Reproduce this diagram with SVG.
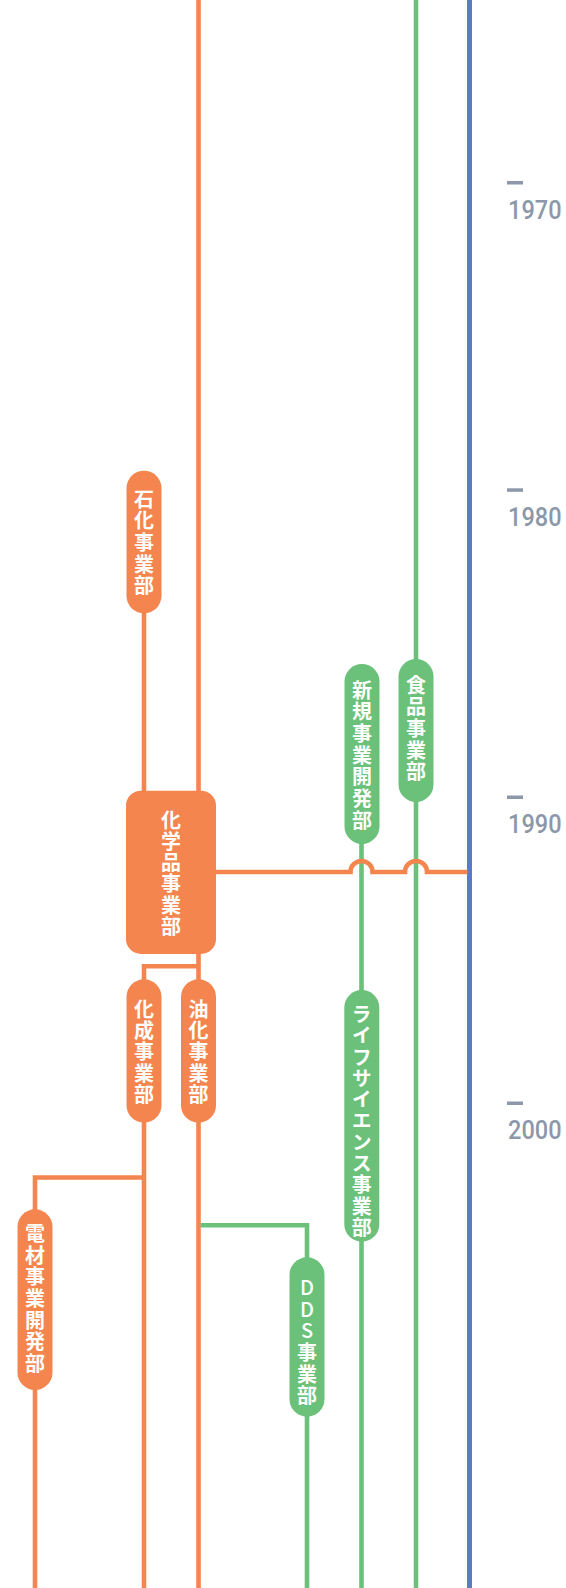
<svg xmlns="http://www.w3.org/2000/svg" width="566" height="1588" viewBox="0 0 566 1588">
<style>
.o{stroke:#F5854E;stroke-width:4.6;fill:none}
.g{stroke:#6BC17A;stroke-width:4.6;fill:none}
.b{stroke:#5B7CBF;stroke-width:5;fill:none}
.po{fill:#F5854E}
.pg{fill:#6BC17A}
.t{fill:#fff;font-family:"Noto Sans CJK JP","Noto Sans CJK SC",sans-serif;font-weight:700;font-size:20px;text-anchor:middle;writing-mode:vertical-rl;text-orientation:upright;letter-spacing:1.7px}
.t2{letter-spacing:1.3px}
.yr{fill:#8C98AA;font-family:Roboto,"Liberation Sans",sans-serif;font-weight:500;font-size:26px}
.tk{fill:#8C98AA}
</style>
<rect width="566" height="1588" fill="#fff"/>
<g id="axis">
<line class="b" x1="469.5" y1="0" x2="469.5" y2="1588"/>
<rect class="tk" x="507" y="181" width="16" height="3.5"/>
<rect class="tk" x="507" y="488.3" width="16" height="3.5"/>
<rect class="tk" x="507" y="795.5" width="16" height="3.5"/>
<rect class="tk" x="507" y="1101.5" width="16" height="3.5"/>
<text class="yr" x="508" y="219" textLength="53.5" lengthAdjust="spacingAndGlyphs">1970</text>
<text class="yr" x="508" y="526" textLength="53.5" lengthAdjust="spacingAndGlyphs">1980</text>
<text class="yr" x="508" y="832.5" textLength="53.5" lengthAdjust="spacingAndGlyphs">1990</text>
<text class="yr" x="508" y="1138.5" textLength="53.5" lengthAdjust="spacingAndGlyphs">2000</text>
</g>
<g id="connectors">
<line class="o" x1="198.5" y1="0" x2="198.5" y2="1588"/>
<line class="g" x1="416" y1="0" x2="416" y2="1588"/>
<line class="o" x1="144" y1="610" x2="144" y2="795"/>
<line class="g" x1="361.5" y1="840" x2="361.5" y2="1588"/>
<path class="o" d="M210 872 H350.5 A11 11 0 0 1 372.5 872 H405 A11 11 0 0 1 427 872 H467.5"/>
<path class="o" d="M198.5 966.3 H144 V1588"/>
<path class="o" d="M144 1177.5 H35 V1588"/>
<path class="g" d="M200.5 1225.3 H307 V1588"/>
</g>
<g id="n-sekika">
<rect class="po" x="126.5" y="470.7" width="35" height="142.6" rx="17.5"/>
<text class="t" x="144" y="543.3">石化事業部</text>
</g>
<g id="n-kagakuhin">
<rect class="po" x="126" y="790.7" width="90" height="163.3" rx="15"/>
<text class="t t2" x="171" y="873.9">化学品事業部</text>
</g>
<g id="n-kasei">
<rect class="po" x="126.5" y="979.3" width="35" height="143.4" rx="17.5"/>
<text class="t t2" x="144" y="1052.5">化成事業部</text>
</g>
<g id="n-yuka">
<rect class="po" x="181" y="979.3" width="35" height="143.4" rx="17.5"/>
<text class="t t2" x="198.5" y="1052.5">油化事業部</text>
</g>
<g id="n-denzai">
<rect class="po" x="17.5" y="1209.3" width="35" height="180.7" rx="17.5"/>
<text class="t" x="35" y="1299.2">電材事業開発部</text>
</g>
<g id="n-dds">
<rect class="pg" x="289.5" y="1257.3" width="35" height="159.4" rx="17.5"/>
<text class="t" x="307" y="1342.5"><tspan font-weight="500">DDS</tspan>事業部</text>
</g>
<g id="n-shinki">
<rect class="pg" x="344.5" y="664" width="35" height="180" rx="17.5"/>
<text class="t" x="362" y="755.9">新規事業開発部</text>
</g>
<g id="n-shokuhin">
<rect class="pg" x="398.5" y="659" width="35" height="143" rx="17.5"/>
<text class="t" x="416" y="729.2">食品事業部</text>
</g>
<g id="n-lifescience">
<rect class="pg" x="344.3" y="990" width="35" height="251.7" rx="17.5"/>
<text class="t t2" x="361.8" y="1121.5">ライフサイエンス事業部</text>
</g>
</svg>
